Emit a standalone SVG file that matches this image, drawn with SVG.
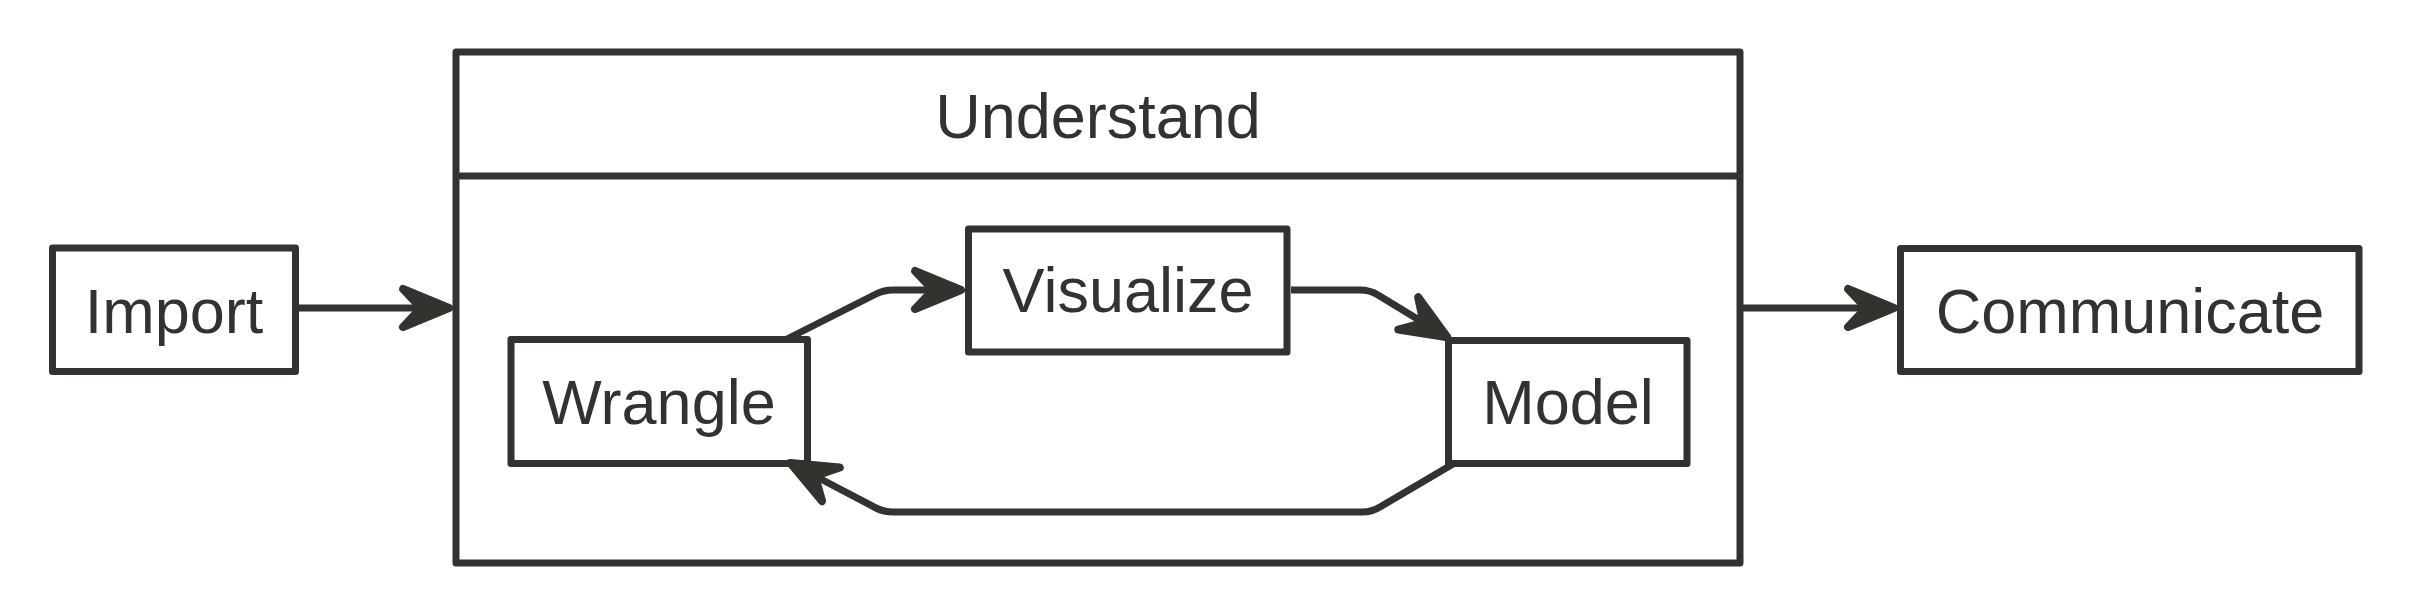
<svg xmlns="http://www.w3.org/2000/svg" width="2412" height="616" viewBox="0 0 2412 616">
<style>
.box{fill:#ffffff;stroke:#33322e;stroke-width:7;stroke-linejoin:round}
.lbl{font-family:"Liberation Sans",Arial,sans-serif;font-size:63px;fill:#33322e;text-anchor:middle}
.edge{fill:none;stroke:#33322e;stroke-width:7;stroke-linejoin:round;marker-end:url(#arr)}
.line{fill:none;stroke:#33322e;stroke-width:7}
</style>
<defs>
<marker id="arr" markerUnits="userSpaceOnUse" viewBox="-30 -30 70 60" markerWidth="70" markerHeight="60" refX="0" refY="0" orient="auto" overflow="visible">
<path d="M28 0 L-18 -19 L0 0 L-18 19 Z" fill="#33322e" stroke="#33322e" stroke-width="8" stroke-linejoin="round"/>
</marker>
</defs>
<rect width="2412" height="616" fill="#ffffff"/>
<g id="understand">
<rect class="box" x="456" y="52" width="1284" height="511"/>
<line class="line" x1="456" y1="176" x2="1740" y2="176"/>
<text class="lbl" x="1098" y="138">Understand</text>
</g>
<g id="import">
<rect class="box" x="52.5" y="248" width="243" height="123.5"/>
<text class="lbl" x="174" y="333">Import</text>
</g>
<g id="communicate">
<rect class="box" x="1900.5" y="248.5" width="458.5" height="123"/>
<text class="lbl" x="2130" y="333">Communicate</text>
</g>
<g id="wrangle">
<rect class="box" x="511" y="339.5" width="296.5" height="124"/>
<text class="lbl" x="659" y="424">Wrangle</text>
</g>
<g id="visualize">
<rect class="box" x="968.5" y="229" width="318.5" height="123"/>
<text class="lbl" x="1128" y="312">Visualize</text>
</g>
<g id="model">
<rect class="box" x="1448.5" y="340.5" width="238.5" height="123"/>
<text class="lbl" x="1568" y="424">Model</text>
</g>
<g id="connectors">
<path class="edge" d="M299 308 L421 308"/>
<path class="edge" d="M1743 308 L1866 308"/>
<path class="edge" d="M787 339 L876 294 Q884 290 893 290 L933 290"/>
<path class="edge" d="M1291 290 L1360 290 Q1370 290 1378 295 L1423.6 322.8"/>
<path class="edge" d="M1453 464 L1380 507 Q1372 512 1362 512 L893 512 Q884 512 876 508 L815 476"/>
</g>
</svg>
